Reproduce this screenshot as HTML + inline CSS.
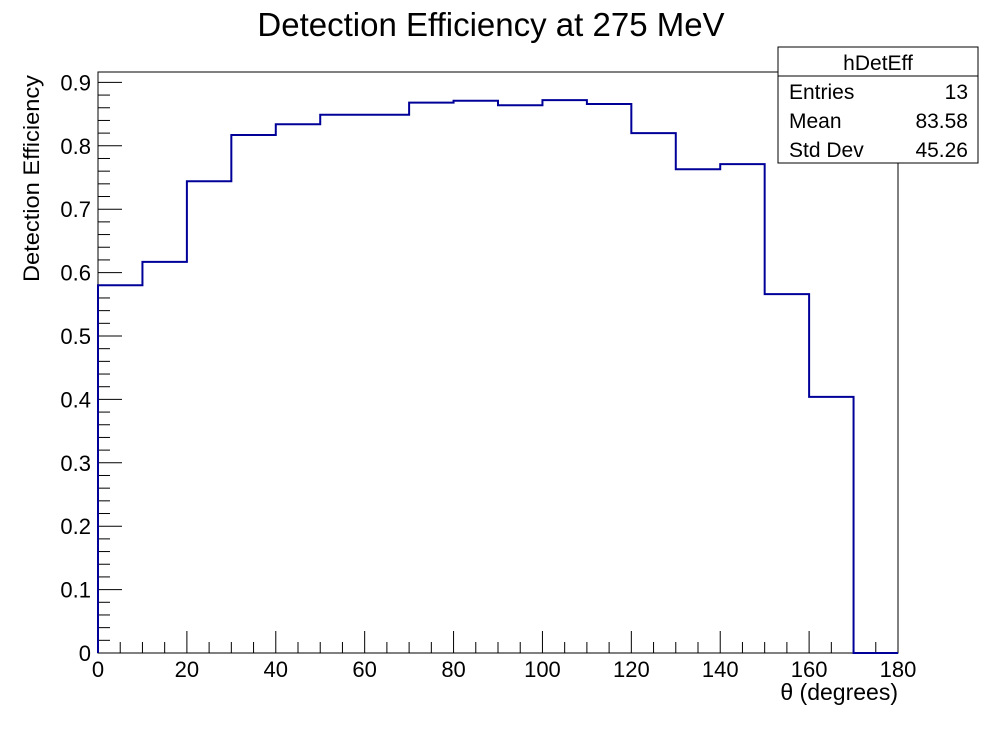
<!DOCTYPE html>
<html><head><meta charset="utf-8"><style>
body{margin:0;background:#fff;width:998px;height:726px;overflow:hidden}
svg text{font-family:"Liberation Sans",sans-serif;fill:#000}
</style></head><body>
<svg id="c" width="998" height="726">
<text x="491" y="36" font-size="33" text-anchor="middle">Detection Efficiency at 275 MeV</text>
<rect x="98" y="72" width="800" height="581" fill="none" stroke="#000" stroke-width="1"/>
<g id="axes"></g>
<path id="hist" fill="none" stroke="#000099" stroke-width="2"/>
<text x="898" y="700" font-size="23" text-anchor="end">θ (degrees)</text>
<text transform="translate(39,282) rotate(-90)" font-size="22" text-anchor="start" textLength="207" lengthAdjust="spacingAndGlyphs">Detection Efficiency</text>
<g>
<rect x="778" y="47" width="200" height="116" fill="#fff" stroke="#000"/>
<line x1="778" y1="76" x2="978" y2="76" stroke="#000"/>
<text x="878" y="70" font-size="21" text-anchor="middle">hDetEff</text>
<text x="789" y="99" font-size="21">Entries</text><text x="968" y="99" font-size="21" text-anchor="end">13</text>
<text x="789" y="128" font-size="21">Mean</text><text x="968" y="128" font-size="21" text-anchor="end">83.58</text>
<text x="789" y="157" font-size="21">Std Dev</text><text x="968" y="157" font-size="21" text-anchor="end">45.26</text>
</g>
</svg>
<script>
const binEdges=[0,10,20,30,40,50,60,70,80,90,100,110,120,130,140,150,160,170,180];
const values=[0.580,0.617,0.744,0.817,0.834,0.849,0.849,0.868,0.871,0.864,0.872,0.866,0.820,0.763,0.771,0.566,0.404,0.0];
const xTicks=[0,20,40,60,80,100,120,140,160,180];
const yTicks=[0,0.1,0.2,0.3,0.4,0.5,0.6,0.7,0.8,0.9];
const X0=98,X1=898,Y0=653,Y1=72,YMAX=0.9164;
function sx(v){return X0+(v-0)/180*(X1-X0);}
function sy(v){return Y0-v/YMAX*(Y0-Y1);}
const NS="http://www.w3.org/2000/svg";
const ax=document.getElementById('axes');
function ln(x1,y1,x2,y2,name){const l=document.createElementNS(NS,'line');l.setAttribute('x1',x1);l.setAttribute('y1',y1);l.setAttribute('x2',x2);l.setAttribute('y2',y2);l.setAttribute('stroke','#000');


ax.appendChild(l);}
function tx(x,y,s,anchor,name){const t=document.createElementNS(NS,'text');t.setAttribute('x',x);t.setAttribute('y',y);t.setAttribute('font-size','22');t.setAttribute('text-anchor',anchor);t.textContent=s;


ax.appendChild(t);}
for(let v=0;v<=180;v+=5){const maj=v%20===0;ln(sx(v),Y0,sx(v),Y0-(maj?22:11),'x-tick');}
xTicks.forEach(v=>tx(sx(v),677,String(v),'middle','x-tick-label'));
for(let i=0;i*0.02<=YMAX;i++){const v=i*0.02;const maj=i%5===0;ln(X0,sy(v),X0+(maj?24:12),sy(v),'y-tick');}
yTicks.forEach(v=>tx(91,sy(v)+8,v===0?'0':v.toFixed(1),'end','y-tick-label'));
let d='M'+sx(binEdges[0])+','+sy(0);
values.forEach((v,i)=>{d+=' L'+sx(binEdges[i])+','+sy(v)+' L'+sx(binEdges[i+1])+','+sy(v);});
d+=' L'+sx(binEdges[binEdges.length-1])+','+sy(0);
document.getElementById('hist').setAttribute('d',d);
</script>
</body></html>
